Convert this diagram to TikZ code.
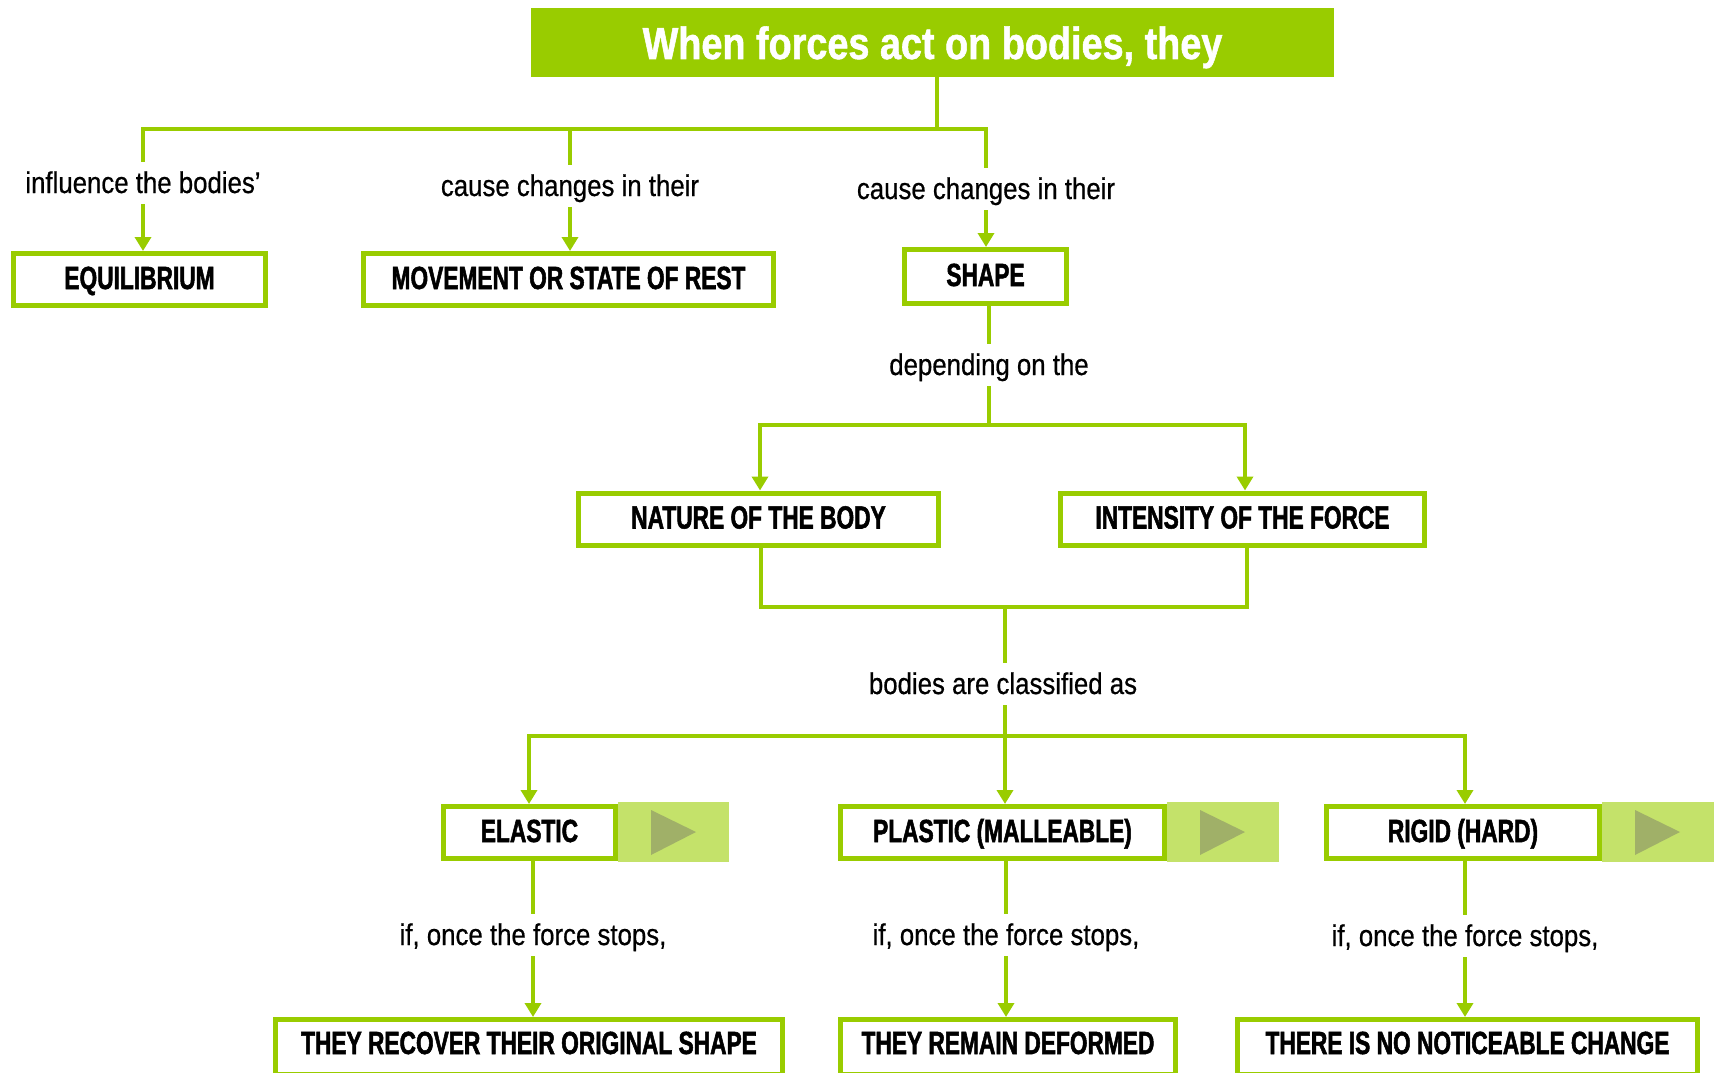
\documentclass[tikz,border=0pt]{standalone}
\usepackage{fontspec}
\setmainfont{Liberation Sans}[FakeStretch=0.86, FakeBold=0.6]
\newfontfamily\boxfont{Liberation Sans}[FakeStretch=0.71, BoldFeatures={FakeBold=1.6}]
\newfontfamily\titlefont{Liberation Sans}[FakeStretch=0.84, BoldFeatures={FakeBold=1.2}]
\usetikzlibrary{arrows.meta}
\definecolor{fgreen}{RGB}{153,204,0}
\definecolor{panelg}{RGB}{196,226,106}
\definecolor{trig}{RGB}{160,176,104}
\tikzset{
  box/.style={draw=fgreen, line width=5pt, fill=white, inner sep=0pt,
    text height=23pt, text depth=4pt,
    font=\boxfont\bfseries\fontsize{32}{36}\selectfont},
  lowbox/.style={box, text depth=9pt},
  lbl/.style={inner xsep=2pt, inner ysep=9pt, text height=22pt, text depth=2pt,
    font=\fontsize{30}{34}\selectfont},
  conn/.style={draw=fgreen, line width=4pt, line join=miter},
  arr/.style={conn, -{Triangle[width=16pt,length=14pt]}},
}
\begin{document}
\begin{tikzpicture}[x=1pt,y=-1pt]
\useasboundingbox (0,0) rectangle (1717,1073);
% title
\node[fill=fgreen, minimum width=803pt, minimum height=69pt, inner sep=0pt,
  text height=33pt, text depth=0pt,
  text=white, font=\titlefont\bfseries\fontsize{45}{50}\selectfont] (title) at (932.5,42.5) {When forces act on bodies, they};
% panels
\fill[panelg] (618,801.5) rectangle (729,862);
\fill[trig] (651,810) -- (696,832) -- (651,855) -- cycle;
\fill[panelg] (1167,801.5) rectangle (1279,862);
\fill[trig] (1200,810) -- (1245,832) -- (1200,855) -- cycle;
\fill[panelg] (1602,801.5) rectangle (1714,862);
\fill[trig] (1635,810) -- (1680,832) -- (1635,855) -- cycle;
% boxes
\node[box, minimum width=252pt, minimum height=52pt] (eq) at (139.5,279.5) {EQUILIBRIUM};
\node[box, minimum width=410pt, minimum height=52pt] (mov) at (568.5,279.5) {MOVEMENT OR STATE OF REST};
\node[box, minimum width=162pt, minimum height=54pt] (shape) at (985.5,276.5) {SHAPE};
\node[box, minimum width=360pt, minimum height=52pt] (nature) at (758.5,519) {NATURE OF THE BODY};
\node[box, minimum width=364pt, minimum height=52pt] (intens) at (1242.5,519) {INTENSITY OF THE FORCE};
\node[box, minimum width=172pt, minimum height=52pt] (elastic) at (529.5,832.5) {ELASTIC};
\node[box, minimum width=324pt, minimum height=52pt] (plastic) at (1002.5,832.5) {PLASTIC (MALLEABLE)};
\node[box, minimum width=273pt, minimum height=52pt] (rigid) at (1463,832.5) {RIGID (HARD)};
\node[lowbox, minimum width=507pt, minimum height=55pt] (recover) at (529,1047) {THEY RECOVER THEIR ORIGINAL SHAPE};
\node[lowbox, minimum width=335pt, minimum height=55pt] (remain) at (1008,1047) {THEY REMAIN DEFORMED};
\node[lowbox, minimum width=460pt, minimum height=55pt] (nochange) at (1467.5,1047) {THERE IS NO NOTICEABLE CHANGE};
% labels
\node[lbl] (lab1) at (143,183) {influence the bodies’};
\node[lbl] (lab2) at (570,186) {cause changes in their};
\node[lbl] (lab3) at (986,189) {cause changes in their};
\node[lbl] (lab4) at (989,365) {depending on the};
\node[lbl] (lab5) at (1003,684) {bodies are classified as};
\node[lbl] (lab6) at (533,935) {if, once the force stops,};
\node[lbl] (lab7) at (1006,935) {if, once the force stops,};
\node[lbl] (lab8) at (1465,936) {if, once the force stops,};
% top connectors
\coordinate (j0) at (937,129);
\coordinate (jl) at (143,129);
\coordinate (jr) at (986,129);
\draw[conn] (title.south -| j0) -- (j0);
\draw[conn] (lab1.north) -- (jl) -- (jr) -- (lab3.north);
\draw[conn] (lab2.north) -- (lab2.north |- jl);
\draw[arr] (lab1.south) -- (lab1.south |- eq.north);
\draw[arr] (lab2.south) -- (lab2.south |- mov.north);
\draw[arr] (lab3.south) -- (lab3.south |- shape.north);
% shape branch
\coordinate (j4) at (989,425);
\coordinate (j4l) at (760,425);
\coordinate (j4r) at (1245,425);
\draw[conn] (shape.south -| lab4) -- (lab4.north);
\draw[conn] (lab4.south) -- (j4);
\draw[arr] (j4) -| (nature.north -| j4l);
\draw[arr] (j4) -| (intens.north -| j4r);
% join
\coordinate (n1) at (761,0);
\coordinate (i1) at (1247,0);
\coordinate (k) at (1005,607);
\coordinate (m) at (1005,736);
\coordinate (e1) at (529,0);
\coordinate (r1) at (1465,0);
\draw[conn] (nature.south -| n1) |- (k) -| (intens.south -| i1);
\draw[conn] (k) -- (k |- lab5.north);
\draw[conn] (m |- lab5.south) -- (m);
\draw[arr] (m) -| (elastic.north -| e1);
\draw[arr] (m) -- (m |- plastic.north);
\draw[arr] (m) -| (rigid.north -| r1);
% lower branches
\draw[conn] (elastic.south -| lab6) -- (lab6.north);
\draw[arr] (lab6.south) -- (lab6.south |- recover.north);
\draw[conn] (plastic.south -| lab7) -- (lab7.north);
\draw[arr] (lab7.south) -- (lab7.south |- remain.north);
\draw[conn] (rigid.south -| lab8) -- (lab8.north);
\draw[arr] (lab8.south) -- (lab8.south |- nochange.north);
\end{tikzpicture}
\end{document}
